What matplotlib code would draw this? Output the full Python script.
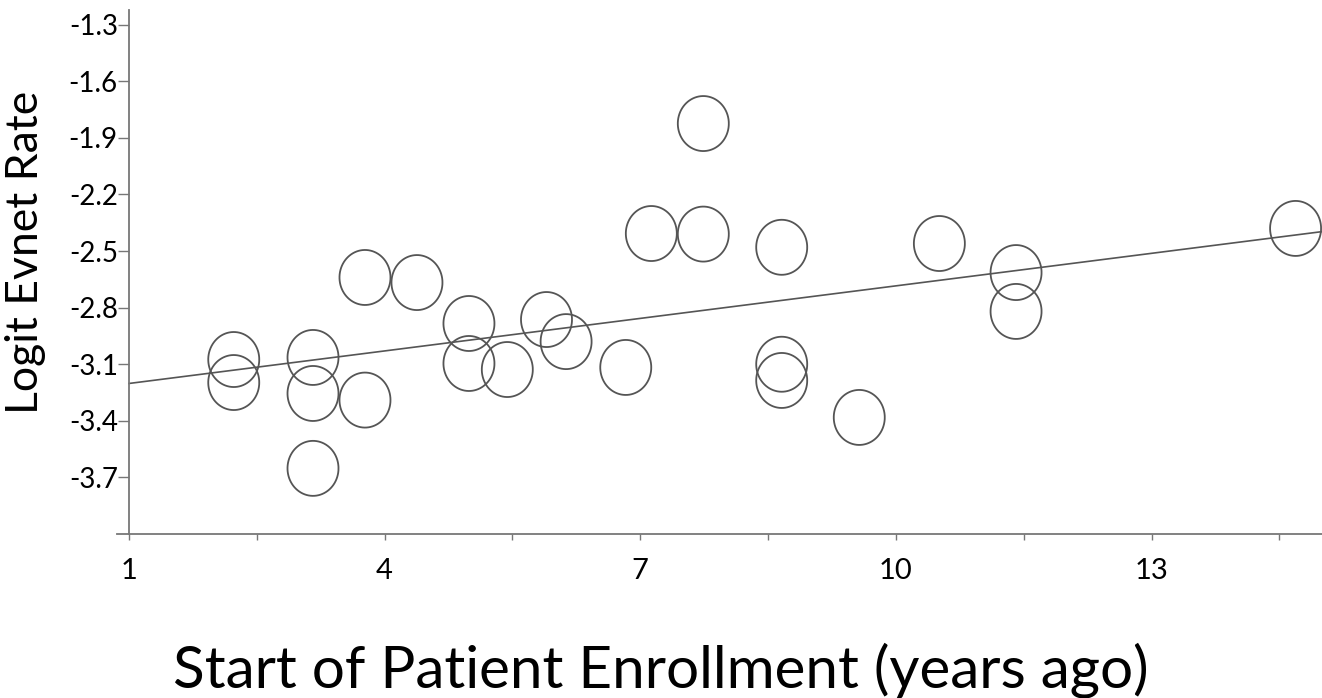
import numpy as np
import matplotlib
matplotlib.use("Agg")
import matplotlib.pyplot as plt

# study start (years ago) and logit event rate
years_ago = [2.23, 2.23, 3.16, 3.16, 3.16, 3.77, 3.77, 4.38, 4.99, 4.99,
             5.44, 5.90, 6.13, 6.83, 7.13, 7.74, 7.74, 8.66, 8.66, 8.66,
             9.57, 10.51, 11.41, 11.41, 14.69]
logit_rate = [-3.075, -3.197, -3.064, -3.255, -3.652, -2.640, -3.290, -2.667, -2.884, -3.096,
              -3.128, -2.863, -2.980, -3.117, -2.407, -1.824, -2.410, -2.480, -3.100, -3.186,
              -3.382, -2.460, -2.614, -2.820, -2.380]

# meta-regression line (intercept at x=1, slope)
fit_intercept = -3.202
fit_slope = 0.0575

y_ticks = [-1.3, -1.6, -1.9, -2.2, -2.5, -2.8, -3.1, -3.4, -3.7]
x_ticks = [1, 2.5, 4, 5.5, 7, 8.5, 10, 11.5, 13, 14.5]
x_labels = ["1", "", "4", "", "7", "", "10", "", "13", ""]

plt.rcParams['font.family'] = ['Lato', 'DejaVu Sans']

fig = plt.figure(figsize=(13.22, 6.98), dpi=100)
ax = fig.add_axes([117 / 1322, 1 - 534 / 698, 1 - 117 / 1322, (534 - 10) / 698])

# elliptical open marker (a bit taller than wide, like the original)
t = np.linspace(0, 2 * np.pi, 80)
ell = np.column_stack([51 * np.cos(t), 55 * np.sin(t)])
ax.scatter(years_ago, logit_rate, marker=ell, s=39.6 ** 2, facecolors='none',
           edgecolors='#555555', linewidths=1.3, zorder=3)

xs = np.array([1, 15])
ax.plot(xs, fit_intercept + fit_slope * (xs - 1), color='#555555', lw=1.2, zorder=2)

ax.set_xlim(0.86, 15)
ax.set_ylim(-4.0, -1.222)

for s in ['top', 'right']:
    ax.spines[s].set_visible(False)
ax.spines['left'].set_position(('data', 1))
for s in ['left', 'bottom']:
    ax.spines[s].set_color('#777777')
    ax.spines[s].set_linewidth(1.3)

ax.set_yticks(y_ticks)
ax.set_yticklabels([f"{v:.1f}" for v in y_ticks])
ax.set_xticks(x_ticks)
ax.set_xticklabels(x_labels)
ax.tick_params(axis='y', length=8, width=1, color='#777777', pad=0, labelsize=20)
ax.tick_params(axis='x', length=4, width=1, color='#777777', pad=13, labelsize=21)

fig.text(0.5, 0.04, "Start of Patient Enrollment (years ago)", ha='center', va='center',
         fontsize=42)
fig.text(0.019, 0.639, "Logit Evnet Rate", rotation=90, ha='center', va='center',
         fontsize=32)

fig.savefig("out.png", dpi=100)
